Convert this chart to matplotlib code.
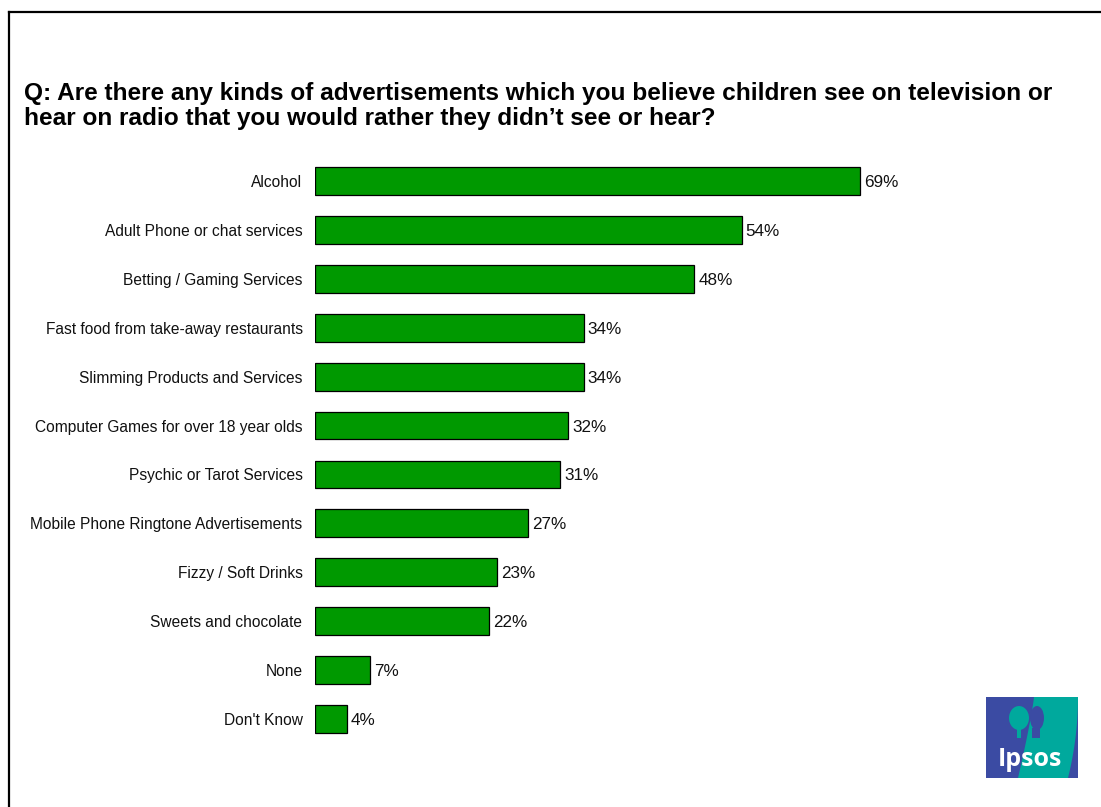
import matplotlib.pyplot as plt
from matplotlib.patches import Rectangle, Polygon, Ellipse
import numpy as np

plt.rcParams['font.family'] = ['Liberation Sans', 'DejaVu Sans']

categories = [
    'Alcohol',
    'Adult Phone or chat services',
    'Betting / Gaming Services',
    'Fast food from take-away restaurants',
    'Slimming Products and Services',
    'Computer Games for over 18 year olds',
    'Psychic or Tarot Services',
    'Mobile Phone Ringtone Advertisements',
    'Fizzy / Soft Drinks',
    'Sweets and chocolate',
    'None',
    "Don't Know",
]
values = [69, 54, 48, 34, 34, 32, 31, 27, 23, 22, 7, 4]

title = ('Q: Are there any kinds of advertisements which you believe children see on television or\n'
         'hear on radio that you would rather they didn\u2019t see or hear?')

W, H = 1101, 807
fig = plt.figure(figsize=(W / 100, H / 100), dpi=100)

# Outer frame: only the left and top edges fall inside the canvas
fig.add_artist(plt.Line2D([9 / W, 9 / W], [0, 1 - 12 / H], color='black', lw=1.6,
                          transform=fig.transFigure))
fig.add_artist(plt.Line2D([9 / W, 1], [1 - 12 / H, 1 - 12 / H], color='black', lw=1.6,
                          transform=fig.transFigure))

fig.text(24 / W, 1 - 125 / H, title, fontsize=17.6, fontweight='bold',
         ha='left', va='baseline', linespacing=1.1)

# Bar axes: 7.9 px per percentage point, rows 49 px apart
ax_left, ax_w = 315, 632
row_top, row_bot = 156.5, 743.5
ax = fig.add_axes([ax_left / W, 1 - row_bot / H, ax_w / W, (row_bot - row_top) / H])
y = np.arange(len(categories))
ax.barh(y, values, height=0.57, color='#009900', edgecolor='black', linewidth=0.9)
ax.set_xlim(0, 80)
ax.set_ylim(len(categories) - 0.5, -0.5)
for yi, v in zip(y, values):
    ax.annotate(f'{v}%', (v, yi), xytext=(3, 0), textcoords='offset points',
                va='center_baseline', ha='left', fontsize=12.3, color='#111111')
ax.set_yticks(y)
ax.set_yticklabels(categories, fontsize=11.2, color='#111111')
for lbl in ax.get_yticklabels():
    lbl.set_verticalalignment('center_baseline')
ax.tick_params(axis='y', length=0, pad=9)
ax.set_xticks([])
for s in ax.spines.values():
    s.set_visible(False)
ax.patch.set_alpha(0)

# Ipsos logo
lax = fig.add_axes([986 / W, 1 - 778 / H, 92 / W, 81 / H])
lax.set_xlim(0, 92)
lax.set_ylim(0, 81)
lax.axis('off')
lax.add_patch(Rectangle((0, 0), 92, 81, color='#3b4ba3', lw=0))
t = np.linspace(0, 1, 30)
mid = np.column_stack([46 - 14 * (1 - t) ** 1.2 + 2 * t, 81 * t])
right = np.column_stack([92 - 10 * (1 - t) ** 2, 81 * t])
teal = np.vstack([mid, right[::-1]])
lax.add_patch(Polygon(teal, closed=True, color='#00a99d', lw=0))
lax.add_patch(Ellipse((33, 60), 20, 24, color='#00a99d', lw=0))
lax.add_patch(Rectangle((31, 40), 4, 10, color='#00a99d', lw=0))
lax.add_patch(Ellipse((51, 60), 14, 24, color='#3b4ba3', lw=0))
lax.add_patch(Rectangle((46, 40), 8, 10, color='#3b4ba3', lw=0))
lax.text(44, 18, 'Ipsos', color='white', fontsize=18, fontweight='bold',
         ha='center', va='center', family=['Open Sans', 'DejaVu Sans'])

fig.savefig('out.png', dpi=100)
